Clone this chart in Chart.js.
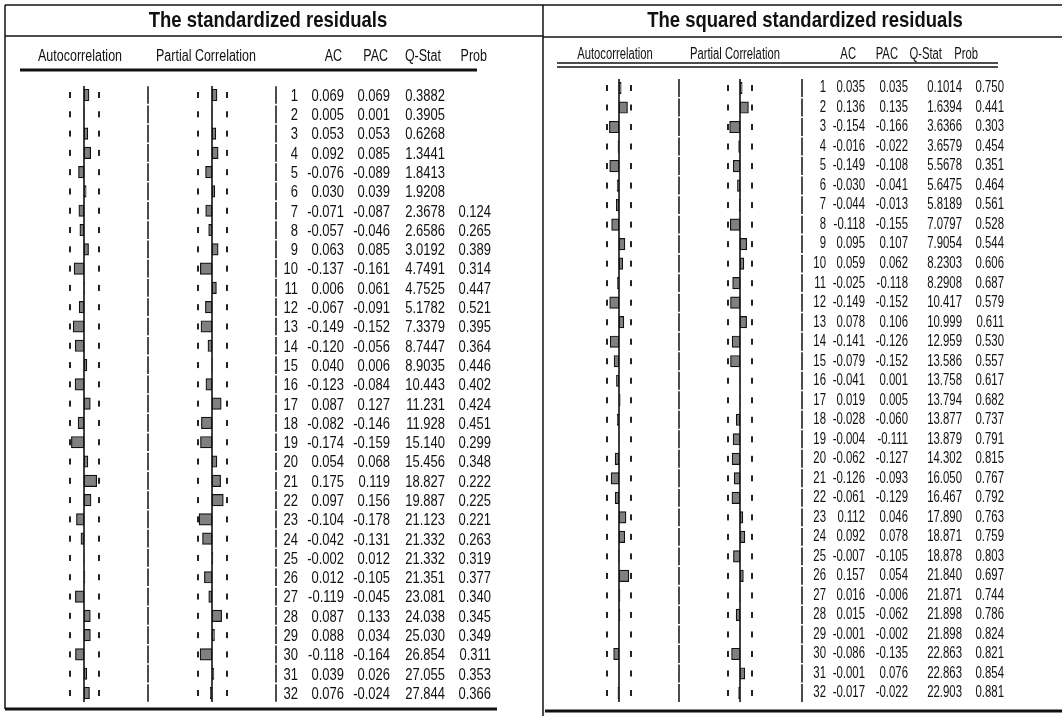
<!DOCTYPE html>
<html>
<head>
<meta charset="utf-8">
<script src="https://cdn.jsdelivr.net/npm/chart.js@4.4.1/dist/chart.umd.min.js"></script>
<style>
  html, body { margin: 0; padding: 0; background: #ffffff; }
  #wrap { position: relative; width: 1062px; height: 719px; }
  canvas { position: absolute; left: 0; top: 0; }
</style>
</head>
<body>
<div id="wrap"><canvas id="corr" width="1062" height="719"></canvas></div>
<script>
// Lags shown in both correlograms
const lags = Array.from({ length: 32 }, (_, i) => i + 1);

// Correlogram of the standardized residuals
const acStd   = [0.069, 0.005, 0.053, 0.092, -0.076, 0.030, -0.071, -0.057, 0.063, -0.137,
                 0.006, -0.067, -0.149, -0.120, 0.040, -0.123, 0.087, -0.082, -0.174, 0.054,
                 0.175, 0.097, -0.104, -0.042, -0.002, 0.012, -0.119, 0.087, 0.088, -0.118,
                 0.039, 0.076];
const pacStd  = [0.069, 0.001, 0.053, 0.085, -0.089, 0.039, -0.087, -0.046, 0.085, -0.161,
                 0.061, -0.091, -0.152, -0.056, 0.006, -0.084, 0.127, -0.146, -0.159, 0.068,
                 0.119, 0.156, -0.178, -0.131, 0.012, -0.105, -0.045, 0.133, 0.034, -0.164,
                 0.026, -0.024];
const qStd    = ["0.3882", "0.3905", "0.6268", "1.3441", "1.8413", "1.9208", "2.3678", "2.6586",
                 "3.0192", "4.7491", "4.7525", "5.1782", "7.3379", "8.7447", "8.9035", "10.443",
                 "11.231", "11.928", "15.140", "15.456", "18.827", "19.887", "21.123", "21.332",
                 "21.332", "21.351", "23.081", "24.038", "25.030", "26.854", "27.055", "27.844"];
const probStd = ["", "", "", "", "", "", "0.124", "0.265", "0.389", "0.314", "0.447", "0.521",
                 "0.395", "0.364", "0.446", "0.402", "0.424", "0.451", "0.299", "0.348", "0.222",
                 "0.225", "0.221", "0.263", "0.319", "0.377", "0.340", "0.345", "0.349", "0.311",
                 "0.353", "0.366"];

// Correlogram of the squared standardized residuals
const acSq    = [0.035, 0.136, -0.154, -0.016, -0.149, -0.030, -0.044, -0.118, 0.095, 0.059,
                 -0.025, -0.149, 0.078, -0.141, -0.079, -0.041, 0.019, -0.028, -0.004, -0.062,
                 -0.126, -0.061, 0.112, 0.092, -0.007, 0.157, 0.016, 0.015, -0.001, -0.086,
                 -0.001, -0.017];
const pacSq   = [0.035, 0.135, -0.166, -0.022, -0.108, -0.041, -0.013, -0.155, 0.107, 0.062,
                 -0.118, -0.152, 0.106, -0.126, -0.152, 0.001, 0.005, -0.060, -0.111, -0.127,
                 -0.093, -0.129, 0.046, 0.078, -0.105, 0.054, -0.006, -0.062, -0.002, -0.135,
                 0.076, -0.022];
const qSq     = ["0.1014", "1.6394", "3.6366", "3.6579", "5.5678", "5.6475", "5.8189", "7.0797",
                 "7.9054", "8.2303", "8.2908", "10.417", "10.999", "12.959", "13.586", "13.758",
                 "13.794", "13.877", "13.879", "14.302", "16.050", "16.467", "17.890", "18.871",
                 "18.878", "21.840", "21.871", "21.898", "21.898", "22.863", "22.863", "22.903"];
const probSq  = ["0.750", "0.441", "0.303", "0.454", "0.351", "0.464", "0.561", "0.528", "0.544",
                 "0.606", "0.687", "0.579", "0.611", "0.530", "0.557", "0.617", "0.682", "0.737",
                 "0.791", "0.815", "0.767", "0.792", "0.763", "0.759", "0.803", "0.697", "0.744",
                 "0.786", "0.824", "0.821", "0.854", "0.881"];

// Panel titles and column headings
const titles  = ["The standardized residuals", "The squared standardized residuals"];
const heads   = ["Autocorrelation", "Partial Correlation", "AC", "PAC", "Q-Stat", "Prob"];

// Dotted significance bound drawn either side of zero
const band = 0.2;

// ---------- layout ----------
const W = 1062, H = 719;
const FONT = '"Liberation Sans", Arial, sans-serif';

// a horizontal value axis whose zero sits at zeroPx with pxPerUnit scaling
function valueAxis(zeroPx, pxPerUnit) {
  return { type: 'linear', display: false, offset: false, bounds: 'data',
           min: -zeroPx / pxPerUnit, max: (W - zeroPx) / pxPerUnit };
}
// a vertical lag axis: lag 1 centred at firstPx, rows spaced by step
function lagAxis(firstPx, step) {
  const min = 1 - firstPx / step;
  return { type: 'linear', display: false, offset: false, bounds: 'data',
           grid: { offset: false }, reverse: true, min: min, max: min + H / step };
}

const panels = [
  { ac: acStd, pac: pacStd, q: qStd, p: probStd, title: titles[0],
    xa: 'xAL', xp: 'xPL', y: 'yL', sx: 1, sy: 1.22, textDy: 1.5,
    cols: { lag: 298, ac: 344, pac: 390, q: 445, p: 491 },
    head: { y: 57, auto: 80, part: 206, ac: 342, pac: 388, q: 441, p: 487, sx: 1, sy: 1.3 },
    titleX: 268, titleY: 21,
    seps: [148, 276] },
  { ac: acSq, pac: pacSq, q: qSq, p: probSq, title: titles[1],
    xa: 'xAR', xp: 'xPR', y: 'yR', sx: 0.875, sy: 1.22, textDy: 0,
    cols: { lag: 826, ac: 865, pac: 908, q: 962, p: 1004 },
    head: { y: 55, auto: 615, part: 735, ac: 856, pac: 898, q: 942, p: 978, sx: 0.9, sy: 1.3 },
    titleX: 805, titleY: 21,
    seps: [679, 802] }
];

function text(ctx, s, x, y, align, size, sx, sy, bold) {
  ctx.save();
  ctx.translate(x, y);
  ctx.scale(sx, sy);
  ctx.font = (bold ? 'bold ' : '') + size + 'px ' + FONT;
  ctx.textAlign = align;
  ctx.textBaseline = 'middle';
  ctx.fillStyle = '#111111';
  ctx.fillText(s, 0, 0);
  ctx.restore();
}
function line(ctx, x1, y1, x2, y2, w) {
  ctx.beginPath();
  ctx.lineWidth = w;
  ctx.strokeStyle = '#111111';
  ctx.moveTo(x1, y1);
  ctx.lineTo(x2, y2);
  ctx.stroke();
}

// frames, headings, band ticks and the numeric columns
const tablePlugin = {
  id: 'correlogramTable',
  beforeDatasetsDraw(chart) {
    const ctx = chart.ctx;
    ctx.save();
    // outer frame
    line(ctx, 5, 5, W, 5, 1.5);
    line(ctx, 5, 5, 5, 709, 1.5);
    line(ctx, 543, 5, 543, 716, 1.5);
    line(ctx, 5, 36, 543, 36, 1.5);
    line(ctx, 543, 37, W, 37, 1.5);
    // heading rules
    line(ctx, 20, 70, 477, 70, 3);
    line(ctx, 557, 63, 998, 63, 1.5);
    line(ctx, 557, 67, 998, 67, 1.5);
    // bottom rules
    line(ctx, 5, 709, 497, 709, 3);
    line(ctx, 545, 711, W, 711, 3);

    panels.forEach(pn => {
      const ys = chart.scales[pn.y];
      const step = Math.abs(ys.getPixelForValue(2) - ys.getPixelForValue(1));
      text(ctx, pn.title, pn.titleX, pn.titleY, 'center', 18.5, 1, 1.15, true);
      const h = pn.head;
      text(ctx, heads[0], h.auto, h.y, 'center', 12.5, h.sx, h.sy);
      text(ctx, heads[1], h.part, h.y, 'center', 12.5, h.sx, h.sy);
      text(ctx, heads[2], h.ac, h.y, 'right', 12.5, h.sx, h.sy);
      text(ctx, heads[3], h.pac, h.y, 'right', 12.5, h.sx, h.sy);
      text(ctx, heads[4], h.q, h.y, 'right', 12.5, h.sx, h.sy);
      text(ctx, heads[5], h.p, h.y, 'right', 12.5, h.sx, h.sy);

      // column separators, one stroke per row
      pn.seps.forEach(x => {
        lags.forEach(l => {
          const yc = ys.getPixelForValue(l);
          line(ctx, x, yc - step / 2 + 0.8, x, yc + step / 2 - 0.8, 1.5);
        });
      });

      // band ticks either side of each zero line
      [pn.xa, pn.xp].forEach(id => {
        const xs = chart.scales[id];
        lags.forEach(l => {
          const yc = ys.getPixelForValue(l);
          [-band, band].forEach(b => {
            ctx.fillStyle = '#222222';
            ctx.fillRect(Math.round(xs.getPixelForValue(b)) - 1, yc - 3, 2, 6);
          });
        });
      });

      // numeric columns
      lags.forEach((l, i) => {
        const yc = ys.getPixelForValue(l) + pn.textDy;
        const c = pn.cols;
        text(ctx, String(l), c.lag, yc, 'right', 13, pn.sx, pn.sy);
        text(ctx, pn.ac[i].toFixed(3), c.ac, yc, 'right', 13, pn.sx, pn.sy);
        text(ctx, pn.pac[i].toFixed(3), c.pac, yc, 'right', 13, pn.sx, pn.sy);
        text(ctx, pn.q[i], c.q, yc, 'right', 13, pn.sx, pn.sy);
        if (pn.p[i]) text(ctx, pn.p[i], c.p, yc, 'right', 13, pn.sx, pn.sy);
      });
    });
    ctx.restore();
  },
  afterDatasetsDraw(chart) {
    const ctx = chart.ctx;
    ctx.save();
    panels.forEach(pn => {
      const ys = chart.scales[pn.y];
      const top = ys.getPixelForValue(1) - 9;
      const bot = ys.getPixelForValue(32) + 9;
      [pn.xa, pn.xp].forEach(id => {
        const x0 = chart.scales[id].getPixelForValue(0);
        line(ctx, x0, top, x0, bot, 1.6);
      });
    });
    ctx.restore();
  }
};

function barSet(values, xAxisID, yAxisID) {
  return {
    type: 'bar',
    data: values.map((v, i) => ({ x: v, y: lags[i] })),
    xAxisID, yAxisID,
    grouped: false,
    backgroundColor: '#808080',
    borderColor: '#111111',
    borderWidth: 1.2,
    borderSkipped: false,
    barThickness: 11.5
  };
}

new Chart(document.getElementById('corr'), {
  type: 'bar',
  data: {
    datasets: [
      barSet(acStd, 'xAL', 'yL'),
      barSet(pacStd, 'xPL', 'yL'),
      barSet(acSq, 'xAR', 'yR'),
      barSet(pacSq, 'xPR', 'yR')
    ]
  },
  options: {
    indexAxis: 'y',
    responsive: false,
    animation: false,
    devicePixelRatio: 1,
    layout: { padding: 0 },
    plugins: { legend: { display: false }, tooltip: { enabled: false } },
    scales: {
      xAL: valueAxis(84, 14.5 / band),
      xPL: valueAxis(212, 14.5 / band),
      xAR: valueAxis(619, 12.5 / band),
      xPR: valueAxis(740, 12.5 / band),
      yL: lagAxis(95, (693 - 95) / 31),
      yR: lagAxis(88, (693 - 88) / 31)
    }
  },
  plugins: [tablePlugin]
});
</script>
</body>
</html>
